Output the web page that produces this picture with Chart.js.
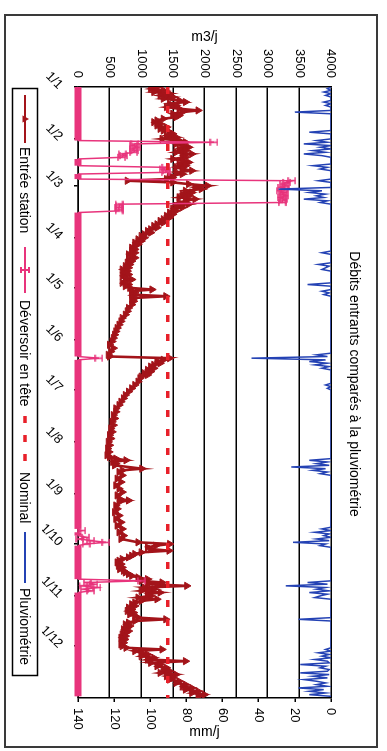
<!DOCTYPE html>
<html>
<head>
<meta charset="utf-8">
<script src="https://cdn.jsdelivr.net/npm/chart.js@4.4.0/dist/chart.umd.min.js"></script>
<style>
  html, body { margin: 0; padding: 0; background: #fff; overflow: hidden; }
  /* the sheet is laid out landscape and turned a quarter turn clockwise */
  #sheet {
    position: absolute; left: 0; top: 0;
    width: 751px; height: 387px;
    transform-origin: 0 0;
    transform: translate(387px, 0) rotate(90deg);
    background: #fff;
  }
  #frame {
    position: absolute; left: 14px; top: 9px; width: 734px; height: 374px;
    border: 2px solid #3a3a3a; box-sizing: border-box;
  }
  #c { position: absolute; left: 0; top: 0; }
</style>
</head>
<body>
<div id="sheet">
  <div id="frame"></div>
  <canvas id="c" width="751" height="387"></canvas>
</div>
<script>
// Texts
const chartTitle = 'Débits entrants comparés à la pluviométrie';
const flowAxisTitle = 'm3/j';
const rainAxisTitle = 'mm/j';
const seriesNames = ['Entrée station', 'Déversoir en tête', 'Nominal', 'Pluviométrie'];

// Date axis: first day of each month (day of year) and its label
const monthStarts = [0, 31, 59, 90, 120, 151, 181, 212, 243, 273, 304, 334];
const monthLabels = ['1/1', '1/2', '1/3', '1/4', '1/5', '1/6', '1/7', '1/8', '1/9', '1/10', '1/11', '1/12'];

// Entrée station (m3/j), by day of year
const stationDays = [
  0,1,2,3,4,5,6,7,8,9,10,11,12,13,14,15,16,17,18,19,20,21,22,23,24,25,26,27,28,29,
  30,31,32,33,34,35,36,37,38,39,40,41,42,43,44,45,46,47,48,49,50,51,52,53,54,55,56,57,58,59,
  60,61,62,63,64,65,66,67,68,69,70,71,72,73,74,75,76,77,78,79,80,81,82,83,84,85,86,87,88,89,
  90,91,92,93,94,95,96,97,98,99,100,101,102,103,104,105,106,107,108,109,110,111,112,113,114,115,116,117,118,119,
  120,121,122,123,124,125,126,127,128,130,132,134,136,138,140,142,144,146,148,150,152,154,156,158,160,161,162,163,164,165,
  166,167,168,169,170,171,172,173,174,176,178,180,182,184,186,188,190,192,194,196,198,200,202,204,206,208,210,212,214,216,
  218,220,221,222,223,224,225,226,228,229,230,232,234,236,238,240,242,244,246,247,248,250,252,254,256,258,260,262,264,266,
  268,270,272,273,274,275,276,277,278,279,280,281,282,283,284,285,286,287,288,289,290,291,292,293,294,295,296,297,298,299,
  300,301,302,303,304,305,306,307,308,309,310,311,312,313,314,315,316,317,318,319,320,321,322,323,324,325,326,327,328,329,
  330,331,332,333,334,335,336,337,338,339,340,341,342,343,344,345,346,347,348,349,350,351,352,353,354,355,356,357,358,359,
  360,361,362,363,364
];
const stationFlow = [
  1250,1150,1350,1200,1450,1300,1500,1350,1600,1700,1450,1550,1400,1600,1900,1650,1500,1600,1550,1350,1250,1200,1300,1250,1400,1300,1350,1450,1500,1400,
  1550,1330,1600,1700,1550,1650,1750,1600,1700,1550,1800,1650,1700,1500,1650,1750,1600,1700,1550,1650,1800,1550,1650,1450,1500,1400,780,1500,1750,2050,
  1850,1950,1700,1800,1650,1750,1600,1850,1700,1600,1750,1550,1650,1500,1550,1450,1500,1400,1450,1350,1300,1350,1250,1200,1250,1150,1100,1150,1050,1000,
  1050,950,1000,900,950,900,850,900,850,900,800,850,900,800,850,780,820,750,800,700,780,720,800,700,750,850,750,700,800,750,
  820,1170,850,900,850,1390,900,850,880,850,800,780,750,700,680,650,620,600,580,560,540,500,560,520,480,500,1450,1350,1250,1300,
  1200,1150,1200,1100,1150,1050,1100,1000,980,950,900,850,800,750,720,680,650,600,600,560,580,540,560,520,540,500,520,480,500,470,
  490,460,500,600,760,550,600,580,1010,700,650,700,620,680,600,650,700,620,660,800,650,600,620,580,650,600,680,620,700,650,
  720,680,950,1450,1230,1100,1150,1440,1000,900,850,800,700,650,620,680,640,700,660,720,750,800,850,950,1100,1000,1330,1100,1720,1050,
  1200,1000,1300,1100,1150,950,1250,1000,900,850,900,800,850,780,880,820,900,950,1390,900,800,750,820,780,720,800,760,700,750,680,
  740,700,720,680,700,760,1330,900,1000,1100,1000,1200,1100,1700,1150,1300,1250,1400,1350,1450,1300,1550,1400,1500,1450,1600,1550,1700,1650,1800,
  1700,1900,1800,2000,1900
];

// Déversoir en tête (m3/j), by day of year
const overflowDays = [
  0,32,33,34,35,36,37,38,39,40,41,42,43,47,48,49,50,51,52,55,56,57,58,59,60,61,62,63,64,65,
  66,67,68,69,70,71,72,73,74,75,161,162,163,264,265,266,268,269,270,271,272,273,274,294,295,296,297,298,299,300,
  301,302,364
];
const overflowFlow = [
  0,0,2150,900,880,920,870,900,880,700,720,690,0,0,1390,1350,1400,1380,0,0,3380,3300,3250,3280,3220,3260,3200,3250,3230,3270,
  3210,3250,3230,3230,650,660,640,650,650,0,0,330,0,0,60,0,0,120,30,200,440,130,0,0,1000,150,250,80,300,100,
  200,0,0
];

// Nominal capacity (m3/j)
const nominalFlow = 1420;

// Pluviométrie (mm/j), by day of year
const rainDays = [
  0,1,2,3,4,5,6,8,9,10,11,12,14,15,16,26,27,28,31,32,33,34,35,36,37,38,39,40,41,42,
  46,47,48,49,50,55,56,57,60,61,62,63,64,65,66,67,68,69,70,98,99,100,105,106,107,108,109,110,117,118,
  119,121,122,123,124,125,159,160,161,162,163,164,165,166,167,168,169,177,178,179,180,181,222,223,224,225,226,227,228,229,
  230,231,232,263,264,265,266,267,268,269,270,271,272,273,274,275,295,296,297,298,299,300,301,302,303,304,305,306,317,318,
  319,335,336,337,338,339,340,341,342,343,344,345,346,347,348,349,350,351,352,353,354,355,356,357,358,359,360,361,362,363,
  364
];
const rainMm = [
  0,2,0,4,0,3,0,0,4,0,3,0,0,20,0,0,12,0,0,8,2,15,0,6,0,10,3,15,5,0,
  0,10,2,6,0,0,7,0,0,29,5,12,3,8,4,15,2,6,0,0,5,0,0,7,1,3,5,0,0,13,
  0,0,5,1,4,0,0,8,2,44,3,12,2,9,1,5,0,0,3,0,2,0,0,12,2,8,1,22,3,10,
  2,6,0,0,5,0,9,1,4,0,8,1,21,3,6,0,0,13,2,25,3,8,1,12,2,6,9,0,0,18,
  0,0,3,0,7,1,5,0,9,2,1,17,3,6,1,2,17,1,10,2,15,8,3,8,2,18,4,12,3,12,
  0
];

const FONT = '"Liberation Sans", Arial, sans-serif';
const COL_STATION = '#a3141a';
const COL_OVERFLOW = '#e8347c';
const COL_NOMINAL = '#e8202a';
const COL_RAIN = '#2442b4';

const pts = (xs, ys) => xs.map((x, i) => ({ x, y: ys[i] }));

function drawTriangle(ctx, x, y, r, color) {
  ctx.fillStyle = color;
  ctx.beginPath();
  ctx.moveTo(x, y - r);
  ctx.lineTo(x + r * 0.9, y + r * 0.6);
  ctx.lineTo(x - r * 0.9, y + r * 0.6);
  ctx.closePath();
  ctx.fill();
}

// Titles, axis titles and the framed legend row
const decorPlugin = {
  id: 'decor',
  afterDraw(chart) {
    const ctx = chart.ctx;
    const ca = chart.chartArea;
    const mid = (ca.top + ca.bottom) / 2;
    ctx.save();
    ctx.fillStyle = '#000';
    ctx.textAlign = 'center';
    ctx.textBaseline = 'middle';
    ctx.font = '14px ' + FONT;
    ctx.fillText(chartTitle, 384, 33);

    ctx.save(); ctx.translate(37, mid); ctx.rotate(-Math.PI / 2);
    ctx.fillText(flowAxisTitle, 0, 0); ctx.restore();
    ctx.save(); ctx.translate(732, mid); ctx.rotate(-Math.PI / 2);
    ctx.fillText(rainAxisTitle, 0, 0); ctx.restore();

    // legend box
    const ly = 362;
    ctx.strokeStyle = '#000';
    ctx.lineWidth = 1.5;
    ctx.strokeRect(88.5, 349.5, 587, 25);

    const items = [
      { x0: 95, x1: 143, tx: 147 },
      { x0: 247, x1: 293, tx: 300 },
      { x0: 416, x1: 465, tx: 472 },
      { x0: 532, x1: 583, tx: 588 }
    ];
    // Entrée station
    ctx.strokeStyle = COL_STATION; ctx.lineWidth = 2;
    ctx.beginPath(); ctx.moveTo(items[0].x0, ly); ctx.lineTo(items[0].x1, ly); ctx.stroke();
    drawTriangle(ctx, (items[0].x0 + items[0].x1) / 2, ly, 4, COL_STATION);
    // Déversoir en tête
    ctx.strokeStyle = COL_OVERFLOW; ctx.lineWidth = 2;
    ctx.beginPath(); ctx.moveTo(items[1].x0, ly); ctx.lineTo(items[1].x1, ly); ctx.stroke();
    const mx = (items[1].x0 + items[1].x1) / 2;
    ctx.beginPath();
    ctx.moveTo(mx - 3, ly - 4); ctx.lineTo(mx + 3, ly - 4);
    ctx.moveTo(mx - 3, ly + 4); ctx.lineTo(mx + 3, ly + 4);
    ctx.moveTo(mx, ly - 4); ctx.lineTo(mx, ly + 4);
    ctx.stroke();
    // Nominal
    ctx.strokeStyle = COL_NOMINAL; ctx.lineWidth = 3.5; ctx.setLineDash([7, 12]);
    ctx.beginPath(); ctx.moveTo(items[2].x0, ly); ctx.lineTo(items[2].x1, ly); ctx.stroke();
    ctx.setLineDash([]);
    // Pluviométrie
    ctx.strokeStyle = COL_RAIN; ctx.lineWidth = 2;
    ctx.beginPath(); ctx.moveTo(items[3].x0, ly); ctx.lineTo(items[3].x1, ly); ctx.stroke();

    ctx.fillStyle = '#000';
    ctx.textAlign = 'left';
    ctx.font = '14px ' + FONT;
    items.forEach((it, i) => ctx.fillText(seriesNames[i], it.tx, ly + 1));
    ctx.restore();
  }
};

// I-beam marker used by the overflow series
function ibeamCanvas(color) {
  const c = document.createElement('canvas');
  c.width = 9; c.height = 9;
  const g = c.getContext('2d');
  g.strokeStyle = color; g.lineWidth = 1.6;
  g.beginPath();
  g.moveTo(1, 1); g.lineTo(8, 1);
  g.moveTo(1, 8); g.lineTo(8, 8);
  g.moveTo(4.5, 1); g.lineTo(4.5, 8);
  g.stroke();
  return c;
}
const ibeam = ibeamCanvas(COL_OVERFLOW);

const plainNumber = v => String(v);

new Chart(document.getElementById('c'), {
  type: 'line',
  data: {
    datasets: [
      {
        label: seriesNames[0],
        data: pts(stationDays, stationFlow),
        yAxisID: 'y',
        borderColor: COL_STATION,
        backgroundColor: COL_STATION,
        borderWidth: 2.6,
        pointStyle: 'triangle',
        pointRadius: 4.2,
        pointBorderWidth: 1,
        tension: 0,
        order: 4
      },
      {
        label: seriesNames[1],
        data: pts(overflowDays, overflowFlow),
        yAxisID: 'y',
        borderColor: COL_OVERFLOW,
        backgroundColor: COL_OVERFLOW,
        borderWidth: 1.5,
        clip: 8,
        segment: {
          borderWidth: s => (s.p0.parsed.y === 0 && s.p1.parsed.y === 0) ? 7 : 1.5
        },
        pointStyle: ibeam,
        pointRadius: c => (c.raw && c.raw.y > 0) ? 4 : 0,
        tension: 0,
        order: 3
      },
      {
        label: seriesNames[2],
        data: [{ x: 0, y: nominalFlow }, { x: 365, y: nominalFlow }],
        yAxisID: 'y',
        borderColor: COL_NOMINAL,
        borderWidth: 3.5,
        borderDash: [7, 12],
        pointRadius: 0,
        order: 2
      },
      {
        label: seriesNames[3],
        data: pts(rainDays, rainMm),
        yAxisID: 'y2',
        borderColor: COL_RAIN,
        borderWidth: 1.5,
        pointRadius: 0,
        tension: 0,
        order: 1
      }
    ]
  },
  options: {
    responsive: false,
    animation: false,
    devicePixelRatio: 1,
    layout: { padding: { top: 56, bottom: 42, left: 0, right: 0 } },
    plugins: { legend: { display: false }, title: { display: false }, tooltip: { enabled: false } },
    scales: {
      x: {
        type: 'linear',
        min: 0,
        max: 365,
        afterBuildTicks: s => { s.ticks = monthStarts.map(v => ({ value: v })); },
        afterFit: s => { s.height = 36; },
        ticks: {
          autoSkip: false,
          minRotation: 45,
          maxRotation: 45,
          padding: 8,
          color: '#000',
          font: { size: 13, family: FONT },
          callback: v => monthLabels[monthStarts.indexOf(v)]
        },
        grid: { drawOnChartArea: false, tickLength: 4, color: '#000', lineWidth: 1.5 },
        border: { color: '#000', width: 1.5 }
      },
      y: {
        position: 'left',
        min: 0,
        max: 4000,
        afterFit: s => { s.width = 87; },
        ticks: { stepSize: 500, padding: 9, color: '#000', font: { size: 13, family: FONT }, callback: plainNumber },
        grid: { color: '#000', lineWidth: 1.5, drawTicks: false },
        border: { color: '#000', width: 1.5 }
      },
      y2: {
        position: 'right',
        reverse: true,
        min: 0,
        max: 140,
        afterFit: s => { s.width = 53; },
        ticks: { stepSize: 20, padding: 6, color: '#000', font: { size: 13, family: FONT }, callback: plainNumber },
        grid: { drawOnChartArea: false, tickLength: 4, color: '#000', lineWidth: 1.5 },
        border: { color: '#000', width: 1.5 }
      }
    }
  },
  plugins: [decorPlugin]
});
</script>
</body>
</html>
